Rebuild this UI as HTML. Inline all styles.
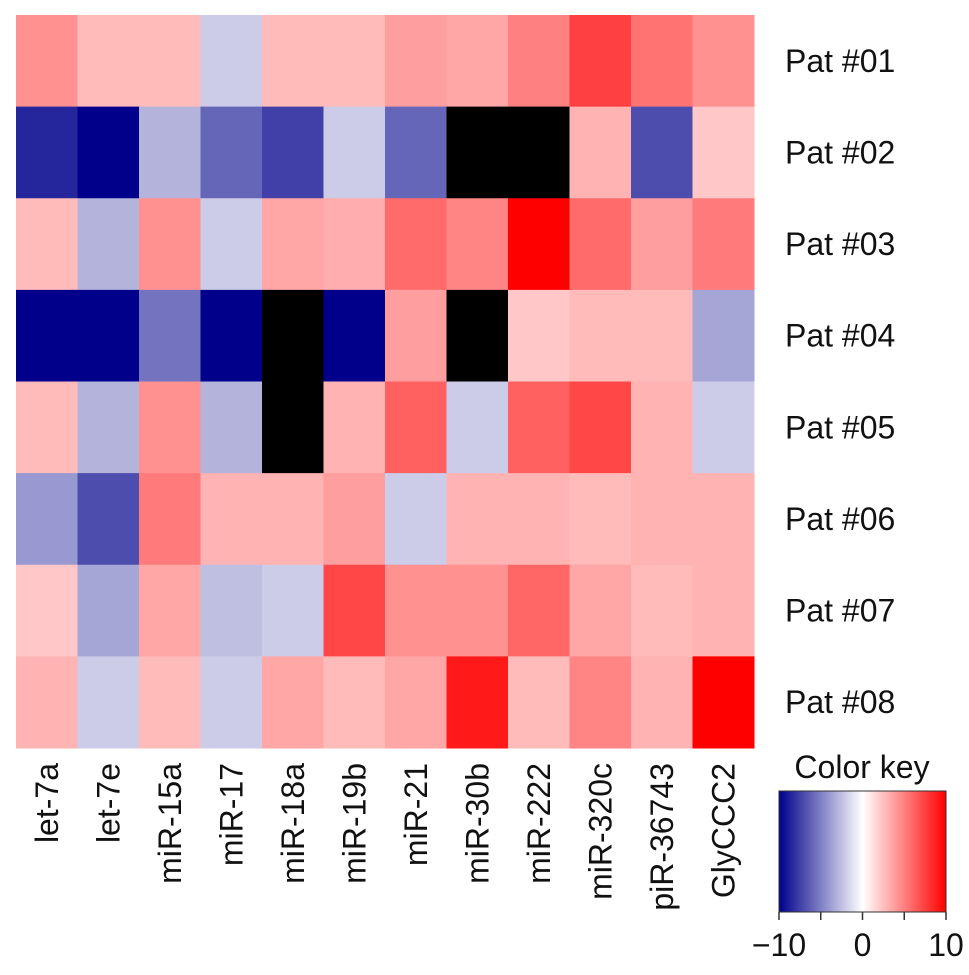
<!DOCTYPE html>
<html><head><meta charset="utf-8"><style>
body{margin:0;background:#fff;}
svg{display:block;font-family:"Liberation Sans",sans-serif;}
</style></head><body>
<svg id="chart" width="969" height="975"></svg>
<script>
const columns=["let-7a","let-7e","miR-15a","miR-17","miR-18a","miR-19b","miR-21","miR-30b","miR-222","miR-320c","piR-36743","GlyCCC2"];
const rows=["Pat #01","Pat #02","Pat #03","Pat #04","Pat #05","Pat #06","Pat #07","Pat #08"];
const N=null;
const row1=[4.3,2.7,2.7,-2,2.7,2.7,3.8,3.5,5,7.5,5.5,4.3];
const row2=[-8.5,-10,-3,-6,-7.5,-2,-6,N,N,3,-7,2.2];
const row3=[2.7,-3,4.3,-2,3.5,3.2,5.8,4.8,10,5.8,3.8,5.2];
const row4=[-10,-10,-5.5,-10,N,-10,3.8,N,2.2,2.7,2.7,-3.5];
const row5=[2.7,-3,4.3,-3,N,3,6.2,-2,6.2,7.2,3,-2];
const row6=[-4,-7,5.2,3,3,3.8,-2,3,3,2.7,3,3];
const row7=[2.2,-3.5,3.5,-2.5,-2,7.2,4.3,4.3,6,3.5,2.7,3];
const row8=[3,-2,2.7,-2,3.5,2.7,3.5,9,2.7,4.8,3,10];
const values=[row1,row2,row3,row4,row5,row6,row7,row8];
const keyTicks=[-10,-5,0,5,10];
const keyLabels=["\u221210","0","10"];
const keyLabelVals=[-10,0,10];

const NS="http://www.w3.org/2000/svg";
const svg=document.getElementById('chart');
const L=16,T=15,W=738,H=733;
const cw=W/columns.length, rh=H/rows.length;
const xPos=i=>L+i*cw, yPos=j=>T+j*rh;
function color(v){
  if(v===null) return "#000";
  v=Math.max(-10,Math.min(10,v));
  if(v>=0){const g=Math.round(255*(1-v/10));return `rgb(255,${g},${g})`;}
  const t=-v/10;const rg=Math.round(255*(1-t));const b=Math.round(255-t*116);
  return `rgb(${rg},${rg},${b})`;
}
function el(tag,attrs){const e=document.createElementNS(NS,tag);for(const k in attrs)e.setAttribute(k,attrs[k]);svg.appendChild(e);return e;}
values.forEach((r,j)=>r.forEach((v,i)=>{
  const c=el('rect',{x:xPos(i),y:yPos(j),width:cw+0.5,height:rh+0.5,fill:color(v)});
  
  
}));
rows.forEach((r,j)=>{
  const t=el('text',{x:785,y:yPos(j)+rh/2+11,'font-size':32,fill:'#111'});t.textContent=r;
  
  
});
columns.forEach((c,i)=>{
  const x=xPos(i)+cw/2+11;
  const t=el('text',{x:x,y:763,'font-size':32,fill:'#111','text-anchor':'end',transform:`rotate(-90 ${x} 763)`});t.textContent=c;
  
  
});
const kx=779,ky=791,kw=167,kh=121;
const defs=el('defs',{});
const grad=document.createElementNS(NS,'linearGradient');grad.setAttribute('id','kg');defs.appendChild(grad);
for(let k=0;k<=20;k++){const s=document.createElementNS(NS,'stop');s.setAttribute('offset',(k/20*100)+'%');s.setAttribute('stop-color',color(-10+k));grad.appendChild(s);}
const kr=el('rect',{x:kx,y:ky,width:kw,height:kh,fill:'url(#kg)',stroke:'#333','stroke-width':1});


const kxs=v=>kx+(v+10)/20*kw;
keyTicks.forEach(v=>{const l=el('line',{x1:kxs(v),x2:kxs(v),y1:ky+kh,y2:ky+kh+8,stroke:'#333','stroke-width':1.5});
  
  });
keyLabels.forEach((s,i)=>{const t=el('text',{x:kxs(keyLabelVals[i]),y:956,'font-size':32,fill:'#111','text-anchor':'middle'});t.textContent=s;
  
  });
const kt=el('text',{x:862,y:778,'font-size':32,fill:'#111','text-anchor':'middle'});kt.textContent="Color key";


</script>
</body></html>
